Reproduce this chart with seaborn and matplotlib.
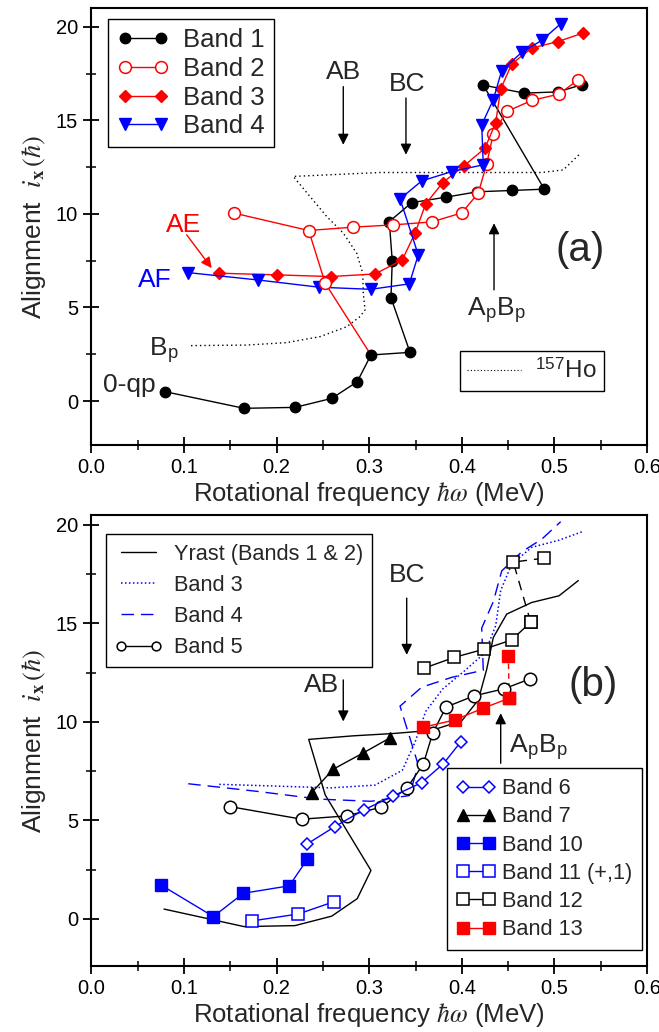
import matplotlib
matplotlib.use('Agg')
import matplotlib.pyplot as plt
import seaborn as sns
from matplotlib.lines import Line2D
from matplotlib.ticker import MultipleLocator, FormatStrFormatter

# ---------------- panel (a) data ----------------
band1_x = [0.0795, 0.1648, 0.2199, 0.2595, 0.2871, 0.3019, 0.3441, 0.3235, 0.3249, 0.3217,
           0.3459, 0.3826, 0.4167, 0.4539, 0.4891, 0.4232, 0.4675, 0.5042, 0.5295]
band1_y = [0.50, -0.39, -0.34, 0.14, 1.03, 2.46, 2.60, 5.52, 7.49, 9.59,
           10.60, 10.89, 11.18, 11.25, 11.32, 16.88, 16.45, 16.52, 16.90]

band2_x = [0.1541, 0.2347, 0.2822, 0.3260, 0.3675, 0.3999, 0.4178, 0.4269, 0.4340, 0.4485,
           0.4755, 0.5050, 0.5258]
band2_y = [10.04, 9.11, 9.29, 9.41, 9.57, 10.05, 11.11, 12.67, 14.28, 15.47,
           16.06, 16.40, 17.17]
band2_link_x = [0.2347, 0.2525, 0.3019]
band2_link_y = [9.11, 6.29, 2.46]

band3_x = [0.1381, 0.2001, 0.2584, 0.3063, 0.3357, 0.3495, 0.3610, 0.3794, 0.4027, 0.4251,
           0.4366, 0.4420, 0.4539, 0.4755, 0.5042, 0.5306]
band3_y = [6.83, 6.74, 6.65, 6.79, 7.54, 8.97, 10.53, 11.67, 12.58, 13.51,
           14.88, 16.67, 18.01, 18.86, 19.21, 19.66]

band4_x = [0.1046, 0.1796, 0.2461, 0.3019, 0.3433, 0.3530, 0.3333, 0.3567, 0.3891, 0.4232,
           0.4215, 0.4340, 0.4431, 0.4647, 0.4863, 0.5068]
band4_y = [6.86, 6.47, 6.08, 5.97, 6.26, 7.81, 10.80, 11.76, 12.26, 12.62,
           14.76, 16.10, 17.66, 18.63, 19.27, 20.16]

ho157_x = [0.1076, 0.1677, 0.2109, 0.2469, 0.2757, 0.2901, 0.2955, 0.2936, 0.2930, 0.2865,
           0.2720, 0.2541, 0.2180, 0.3117, 0.4863, 0.5096, 0.5276]
ho157_y = [2.96, 2.99, 3.12, 3.44, 3.97, 4.51, 4.87, 5.76, 6.83, 7.90,
           8.97, 9.86, 12.00, 12.21, 12.21, 12.35, 13.21]

# ---------------- panel (b) data ----------------
yrast_x = [0.0784, 0.1648, 0.2199, 0.2595, 0.2871, 0.3019, 0.2525, 0.2347, 0.2822, 0.3260,
           0.3675, 0.3999, 0.4178, 0.4269, 0.4340, 0.4485, 0.4755, 0.5050, 0.5258]
yrast_y = [0.50, -0.39, -0.34, 0.14, 1.03, 2.46, 6.29, 9.11, 9.29, 9.41,
           9.57, 10.05, 11.11, 12.67, 14.28, 15.47, 16.06, 16.40, 17.17]

band5_x = [0.1497, 0.2271, 0.2757, 0.3130, 0.3405, 0.3584, 0.3686, 0.3829, 0.4132, 0.4456, 0.4736]
band5_y = [5.70, 5.06, 5.23, 5.67, 6.63, 7.85, 9.43, 10.75, 11.32, 11.68, 12.18]

band6_x = [0.2325, 0.2631, 0.2940, 0.3260, 0.3567, 0.3800, 0.3988]
band6_y = [3.79, 4.69, 5.53, 6.24, 6.92, 7.87, 8.98]

band7_x = [0.2379, 0.2612, 0.2930, 0.3229]
band7_y = [6.41, 7.60, 8.41, 9.20]

band10_x = [0.0748, 0.1317, 0.1641, 0.2137, 0.2332]
band10_y = [1.73, 0.12, 1.30, 1.68, 3.03]

band11_x = [0.1738, 0.2235, 0.2623]
band11_y = [-0.10, 0.25, 0.88]

band12_x = [0.3595, 0.3916, 0.4240, 0.4539, 0.4744]
band12_y = [12.73, 13.27, 13.69, 14.16, 15.06]
band12_ext_x = [0.4744, 0.4556, 0.4888]
band12_ext_y = [15.06, 18.11, 18.31]

band13_x = [0.3584, 0.3927, 0.4232, 0.4513]
band13_y = [9.73, 10.10, 10.70, 11.20]
band13_ext_x = [0.4513, 0.4502]
band13_ext_y = [11.20, 13.35]

# ---------------- style ----------------
sns.set_style('ticks')
plt.rcParams['font.family'] = ['Liberation Sans', 'DejaVu Sans']
plt.rcParams['mathtext.fontset'] = 'stix'
plt.rcParams['axes.linewidth'] = 1.5

W, H = 659, 1032
fig = plt.figure(figsize=(W / 100, H / 100), dpi=100)
axA = fig.add_axes([91.4 / W, 1 - 445 / H, (647 - 91.4) / W, (445 - 8) / H])
axB = fig.add_axes([91.4 / W, 1 - 966 / H, (647 - 91.4) / W, (966 - 515) / H])


def draw(ax, x, y, **kw):
    sns.lineplot(x=x, y=y, ax=ax, sort=False, estimator=None, legend=False, **kw)
    return ax.lines[-1]


RED = '#ff0000'
BLUE = '#0000ff'

# ---------------- panel (a) ----------------
draw(axA, ho157_x, ho157_y, color='k', lw=1.0, linestyle=(0, (1, 2.2)))
draw(axA, band2_link_x, band2_link_y, color=RED, lw=1.0)
h1 = draw(axA, band1_x, band1_y, color='k', lw=1.0, marker='o', markersize=7.5,
          markerfacecolor='k', markeredgecolor='k', markeredgewidth=1)
h2 = draw(axA, band2_x, band2_y, color=RED, lw=1.0, marker='o', markersize=8.5,
          markerfacecolor='white', markeredgecolor=RED, markeredgewidth=1.1)
h3 = draw(axA, band3_x, band3_y, color=RED, lw=1.0, marker='D', markersize=6.5,
          markerfacecolor=RED, markeredgecolor=RED, markeredgewidth=1)
h4 = draw(axA, band4_x, band4_y, color=BLUE, lw=1.0, marker='v', markersize=8,
          markerfacecolor=BLUE, markeredgecolor=BLUE, markeredgewidth=1)
draw(axA, band2_link_x[1:2], band2_link_y[1:2], color=RED, lw=0, marker='o', markersize=8.5,
     markerfacecolor='white', markeredgecolor=RED, markeredgewidth=1.1)

leg1 = axA.legend([h1, h2, h3, h4], ['Band 1', 'Band 2', 'Band 3', 'Band 4'],
                  loc='upper left', bbox_to_anchor=(0.030, 0.974), borderaxespad=0,
                  fontsize=18.5, numpoints=2, handlelength=2.0, handletextpad=0.57,
                  labelspacing=0.18, borderpad=0.35, fancybox=False, framealpha=1,
                  edgecolor='k')
leg1.get_frame().set_linewidth(1.0)
axA.add_artist(leg1)
hoH = Line2D([], [], color='k', lw=0.8, linestyle=(0, (1, 2)))
leg2 = axA.legend([hoH], [r'$^{\mathregular{157}}$Ho'], loc='lower right',
                  bbox_to_anchor=(0.9226, 0.1243), borderaxespad=0, fontsize=17.5,
                  handlelength=2.2, handletextpad=0.6, borderpad=0.3, fancybox=False,
                  framealpha=1, edgecolor='k')
leg2.get_frame().set_linewidth(1.0)

TXT = 19
arrow_k = dict(arrowstyle='-|>', lw=1.0, color='k', mutation_scale=16, shrinkA=0, shrinkB=0)
axA.text(0.2720, 17.2, 'AB', fontsize=TXT, ha='center', va='baseline')
axA.annotate('', xy=(0.2720, 13.69), xytext=(0.2720, 16.8), arrowprops=arrow_k)
axA.text(0.3405, 16.59, 'BC', fontsize=TXT, ha='center', va='baseline')
axA.annotate('', xy=(0.3397, 13.16), xytext=(0.3397, 16.19), arrowprops=arrow_k)
axA.text(0.438, 4.51, r'A$_\mathregular{p}$B$_\mathregular{p}$', fontsize=TXT,
         ha='center', va='baseline')
axA.annotate('', xy=(0.4348, 9.5), xytext=(0.4348, 5.94), arrowprops=arrow_k)
axA.text(0.5277, 8.07, '(a)', fontsize=29, ha='center', va='center')
axA.text(0.1000, 9.05, 'AE', fontsize=TXT, ha='center', va='baseline', color=RED)
axA.annotate('', xy=(0.1299, 7.10), xytext=(0.1029, 8.88),
             arrowprops=dict(arrowstyle='-|>', lw=1.0, color=RED, mutation_scale=16,
                             shrinkA=0, shrinkB=0))
axA.text(0.0687, 6.08, 'AF', fontsize=TXT, ha='center', va='baseline', color=BLUE)
axA.text(0.0779, 2.37, r'B$_\mathregular{p}$', fontsize=TXT, ha='center', va='baseline')
axA.text(0.041, 0.47, '0-qp', fontsize=TXT, ha='center', va='baseline')

# ---------------- panel (b) ----------------
hY = draw(axB, yrast_x, yrast_y, color='k', lw=1.0)
hB3 = draw(axB, band3_x, band3_y, color=BLUE, lw=1.1, linestyle=(0, (1, 1.6)))
hB4 = draw(axB, band4_x, band4_y, color=BLUE, lw=1.0, linestyle=(0, (9, 5)))
draw(axB, band12_ext_x, band12_ext_y, color='k', lw=1.0, linestyle=(0, (7, 5)),
     marker='s', markersize=9, markerfacecolor='white', markeredgecolor='k',
     markeredgewidth=1.1)
draw(axB, band13_ext_x, band13_ext_y, color=RED, lw=1.0, linestyle=(0, (4, 3)),
     marker='s', markersize=8, markerfacecolor=RED, markeredgecolor=RED, markeredgewidth=1)
hB5 = draw(axB, band5_x, band5_y, color='k', lw=1.0, marker='o', markersize=9,
           markerfacecolor='white', markeredgecolor='k', markeredgewidth=1.1)
hB6 = draw(axB, band6_x, band6_y, color=BLUE, lw=1.0, marker='D', markersize=6.5,
           markerfacecolor='white', markeredgecolor=BLUE, markeredgewidth=1.1)
hB7 = draw(axB, band7_x, band7_y, color='k', lw=1.0, marker='^', markersize=8,
           markerfacecolor='k', markeredgecolor='k', markeredgewidth=1)
hB10 = draw(axB, band10_x, band10_y, color=BLUE, lw=1.0, marker='s', markersize=8,
            markerfacecolor=BLUE, markeredgecolor=BLUE, markeredgewidth=1)
hB11 = draw(axB, band11_x, band11_y, color=BLUE, lw=1.0, marker='s', markersize=9,
            markerfacecolor='white', markeredgecolor=BLUE, markeredgewidth=1.1)
hB12 = draw(axB, band12_x, band12_y, color='k', lw=1.0, marker='s', markersize=9,
            markerfacecolor='white', markeredgecolor='k', markeredgewidth=1.1)
hB13 = draw(axB, band13_x, band13_y, color=RED, lw=1.0, marker='s', markersize=8,
            markerfacecolor=RED, markeredgecolor=RED, markeredgewidth=1)

leg3 = axB.legend([hY, hB3, hB4, hB5], ['Yrast (Bands 1 & 2)', 'Band 3', 'Band 4', 'Band 5'],
                  loc='upper left', bbox_to_anchor=(0.0257, 0.957), borderaxespad=0,
                  fontsize=15.7, numpoints=2, handlelength=2.2, handletextpad=0.5,
                  labelspacing=0.47, borderpad=0.42, fancybox=False, framealpha=1,
                  edgecolor='k', markerscale=0.7)
leg3.get_frame().set_linewidth(1.0)
axB.add_artist(leg3)
leg4 = axB.legend([hB6, hB7, hB10, hB11, hB12, hB13],
                  ['Band 6', 'Band 7', 'Band 10', 'Band 11 (+,1)', 'Band 12', 'Band 13'],
                  loc='lower right', bbox_to_anchor=(0.9905, 0.0355), borderaxespad=0,
                  fontsize=15.7, numpoints=2, handlelength=1.75, handletextpad=0.3,
                  labelspacing=0.33, borderpad=0.45, fancybox=False, framealpha=1,
                  edgecolor='k')
leg4.get_frame().set_linewidth(1.0)

axB.text(0.2490, 11.54, 'AB', fontsize=TXT, ha='center', va='baseline')
axB.annotate('', xy=(0.2720, 10.02), xytext=(0.2720, 12.13), arrowprops=arrow_k)
axB.text(0.3405, 17.12, 'BC', fontsize=TXT, ha='center', va='baseline')
axB.annotate('', xy=(0.3405, 13.40), xytext=(0.3405, 16.28), arrowprops=arrow_k)
axB.text(0.4823, 8.41, r'A$_\mathregular{p}$B$_\mathregular{p}$', fontsize=TXT,
         ha='center', va='baseline')
axB.annotate('', xy=(0.442, 10.44), xytext=(0.442, 7.90), arrowprops=arrow_k)
axB.text(0.542, 11.86, '(b)', fontsize=29, ha='center', va='center')

# ---------------- axes ----------------
axA.set_ylim(-2.35, 21.0)
axB.set_ylim(-2.39, 20.5)
for ax in (axA, axB):
    ax.set_xlim(0, 0.6)
    ax.xaxis.set_major_locator(MultipleLocator(0.1))
    ax.xaxis.set_minor_locator(MultipleLocator(0.05))
    ax.yaxis.set_major_locator(MultipleLocator(5))
    ax.yaxis.set_minor_locator(MultipleLocator(2.5))
    ax.xaxis.set_major_formatter(FormatStrFormatter('%.1f'))
    ax.tick_params(which='major', direction='inout', length=11, width=1.3, labelsize=14.5,
                   top=False, right=False, colors='k', pad=4)
    ax.tick_params(which='minor', direction='inout', length=7, width=1.3,
                   top=False, right=False)
    for s in ax.spines.values():
        s.set_linewidth(1.5)
        s.set_color('k')
        s.set_visible(True)
    ax.set_xlabel(r'Rotational frequency $\hbar\omega$ (MeV)', fontsize=18.5, labelpad=2)
    ax.set_ylabel(r'Alignment  $i_{\mathbf{x}}\,(\hbar)$', fontsize=19, labelpad=6)
    ax.set_facecolor('white')

fig.savefig('out.png', dpi=100, facecolor='white')
